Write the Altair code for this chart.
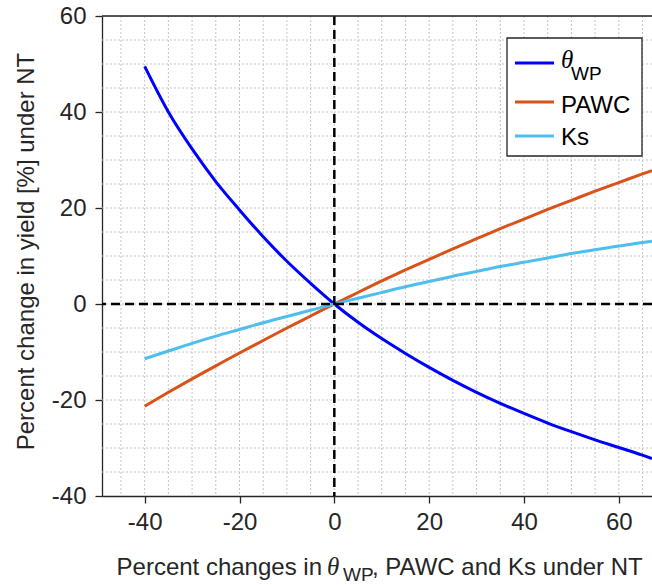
import altair as alt
import pandas as pd

# ---------------- data ----------------
x_change = [-40, -35, -30, -25, -20, -15, -10, -5, 0, 5, 10, 15, 20, 25, 30, 35, 40, 45, 50, 55, 60, 65, 67]
theta_wp = [49.5, 40.0, 32.3, 25.5, 19.6, 14.0, 8.9, 4.3, 0.0, -3.8, -7.2, -10.3, -13.2, -15.9, -18.4, -20.7,
            -22.8, -24.8, -26.6, -28.3, -29.9, -31.5, -32.2]
pawc = [-21.3, -18.4, -15.6, -12.9, -10.2, -7.6, -5.0, -2.5, 0.0, 2.4, 4.8, 7.1, 9.3, 11.5, 13.6, 15.7,
        17.7, 19.7, 21.6, 23.5, 25.3, 27.1, 27.8]
ks = [-11.4, -9.8, -8.2, -6.7, -5.3, -3.9, -2.6, -1.3, 0.0, 1.2, 2.4, 3.6, 4.7, 5.8, 6.8, 7.8,
      8.7, 9.6, 10.5, 11.3, 12.1, 12.8, 13.1]

series_names = ["theta_WP", "PAWC", "Ks"]
series_colors = ["#0000FF", "#D95319", "#4DBEEE"]

x_ticks = [-40, -20, 0, 20, 40, 60]
y_ticks = [-40, -20, 0, 20, 40, 60]
x_minor = list(range(-45, 66, 5))
y_minor = list(range(-35, 61, 5))

y_title = "Percent change in yield [%] under NT"
x_title_pre = "Percent changes in"
x_title_post = ", PAWC and Ks under NT"
theta_sym = "θ"
sub_wp = "WP"

# ---------------- layout ----------------
W, H = 550, 480
FONT = "Liberation Sans"
TXT = "#262626"
HYPHEN = "replace(datum.label, '\u2212', '-')"

df = pd.DataFrame({
    "x": x_change * 3,
    "y": theta_wp + pawc + ks,
    "series": [series_names[0]] * len(x_change) + [series_names[1]] * len(x_change) + [series_names[2]] * len(x_change),
})

xscale = alt.Scale(domain=[-49, 67], nice=False, zero=False)
yscale = alt.Scale(domain=[-40, 60], nice=False, zero=False)

xaxis = alt.Axis(values=x_ticks, grid=False, title=None, tickSize=7, tickWidth=1.3, tickColor=TXT,
                 domainColor=TXT, domainWidth=1.3, labelFont=FONT, labelFontSize=24, labelColor=TXT,
                 labelPadding=7, format="d", labelFlush=False, labelExpr=HYPHEN)
yaxis = alt.Axis(values=y_ticks, grid=False, title=y_title, tickSize=7, tickWidth=1.3, tickColor=TXT,
                 domainColor=TXT, domainWidth=1.3, labelFont=FONT, labelFontSize=24, labelColor=TXT,
                 labelPadding=9, format="d", labelFlush=False, labelExpr=HYPHEN,
                 titleFont=FONT, titleFontSize=24, titleFontWeight="normal", titleColor=TXT,
                 titleAngle=270, titleAlign="center", titleBaseline="alphabetic",
                 titleX=-69, titleY=235)

grid_style = dict(color="#c4c4c4", strokeWidth=1, strokeDash=[2, 2])

gx = alt.Chart(pd.DataFrame({"gx": x_minor})).mark_rule(**grid_style).encode(
    x=alt.X("gx:Q", scale=xscale, axis=xaxis))
gy = alt.Chart(pd.DataFrame({"gy": y_minor})).mark_rule(**grid_style).encode(
    y=alt.Y("gy:Q", scale=yscale, axis=yaxis))

lines = alt.Chart(df).mark_line(strokeWidth=3, clip=True, interpolate="monotone").encode(
    x=alt.X("x:Q", scale=xscale, axis=xaxis),
    y=alt.Y("y:Q", scale=yscale, axis=yaxis),
    color=alt.Color("series:N", scale=alt.Scale(domain=series_names, range=series_colors), legend=None),
    detail="series:N",
)

zero_df = pd.DataFrame({"z": [0]})
zx = alt.Chart(zero_df).mark_rule(color="black", strokeWidth=2.5, strokeDash=[9, 5]).encode(
    x=alt.X("z:Q", scale=xscale, axis=xaxis))
zy = alt.Chart(zero_df).mark_rule(color="black", strokeWidth=2.5, strokeDash=[9, 5]).encode(
    y=alt.Y("z:Q", scale=yscale, axis=yaxis))

one = pd.DataFrame({"k": [0]})
top_border = alt.Chart(one).mark_rule(color=TXT, strokeWidth=1.3).encode(
    x=alt.value(0), x2=alt.value(W), y=alt.value(0))

# ---------------- legend (custom, to allow subscript) ----------------
leg_box = alt.Chart(one).mark_rect(fill="white", stroke=TXT, strokeWidth=1.3).encode(
    x=alt.value(405), x2=alt.value(540), y=alt.value(22), y2=alt.value(140))

leg_layers = [leg_box]
line_y = [47, 86, 120]
for name, col, ly in zip(series_names, series_colors, line_y):
    leg_layers.append(
        alt.Chart(pd.DataFrame({"series": [name]})).mark_rule(color=col, strokeWidth=3).encode(
            x=alt.value(413), x2=alt.value(452), y=alt.value(ly)))

leg_theta = alt.Chart(pd.DataFrame({"t": [theta_sym]})).mark_text(
    font="Liberation Serif", fontStyle="italic", fontSize=25, color="black", align="left",
    baseline="alphabetic").encode(text="t:N", x=alt.value(459), y=alt.value(52))
leg_sub = alt.Chart(pd.DataFrame({"t": [sub_wp]})).mark_text(
    font=FONT, fontSize=19, color="black", align="left", baseline="alphabetic").encode(
    text="t:N", x=alt.value(469), y=alt.value(64))
leg_pawc = alt.Chart(pd.DataFrame({"t": [series_names[1]]})).mark_text(
    font=FONT, fontSize=24, color="black", align="left", baseline="alphabetic").encode(
    text="t:N", x=alt.value(459), y=alt.value(97))
leg_ks = alt.Chart(pd.DataFrame({"t": [series_names[2]]})).mark_text(
    font=FONT, fontSize=24, color="black", align="left", baseline="alphabetic").encode(
    text="t:N", x=alt.value(459), y=alt.value(129))
leg_layers += [leg_theta, leg_sub, leg_pawc, leg_ks]

# ---------------- x title with subscript ----------------
xt1 = alt.Chart(pd.DataFrame({"t": [x_title_pre]})).mark_text(
    font=FONT, fontSize=24, color=TXT, align="right", baseline="alphabetic").encode(
    text="t:N", x=alt.value(220), y=alt.value(559))
xt2 = alt.Chart(pd.DataFrame({"t": [theta_sym]})).mark_text(
    font="Liberation Serif", fontStyle="italic", fontSize=25, color=TXT, align="left",
    baseline="alphabetic").encode(text="t:N", x=alt.value(225), y=alt.value(559))
xt3 = alt.Chart(pd.DataFrame({"t": [sub_wp]})).mark_text(
    font=FONT, fontSize=19, color=TXT, align="left", baseline="alphabetic").encode(
    text="t:N", x=alt.value(241), y=alt.value(565))
xt4 = alt.Chart(pd.DataFrame({"t": [x_title_post]})).mark_text(
    font=FONT, fontSize=24, color=TXT, align="left", baseline="alphabetic").encode(
    text="t:N", x=alt.value(270), y=alt.value(559))

chart = alt.layer(gx, gy, lines, zx, zy, top_border, *leg_layers, xt1, xt2, xt3, xt4).properties(
    width=W, height=H,
    autosize=alt.AutoSizeParams(type="none"),
    padding={"left": 102, "top": 16, "right": 0, "bottom": 89},
).configure_view(stroke=None).configure(background="white")

chart.save("out.html", embed_options={"renderer": "svg", "actions": False})
